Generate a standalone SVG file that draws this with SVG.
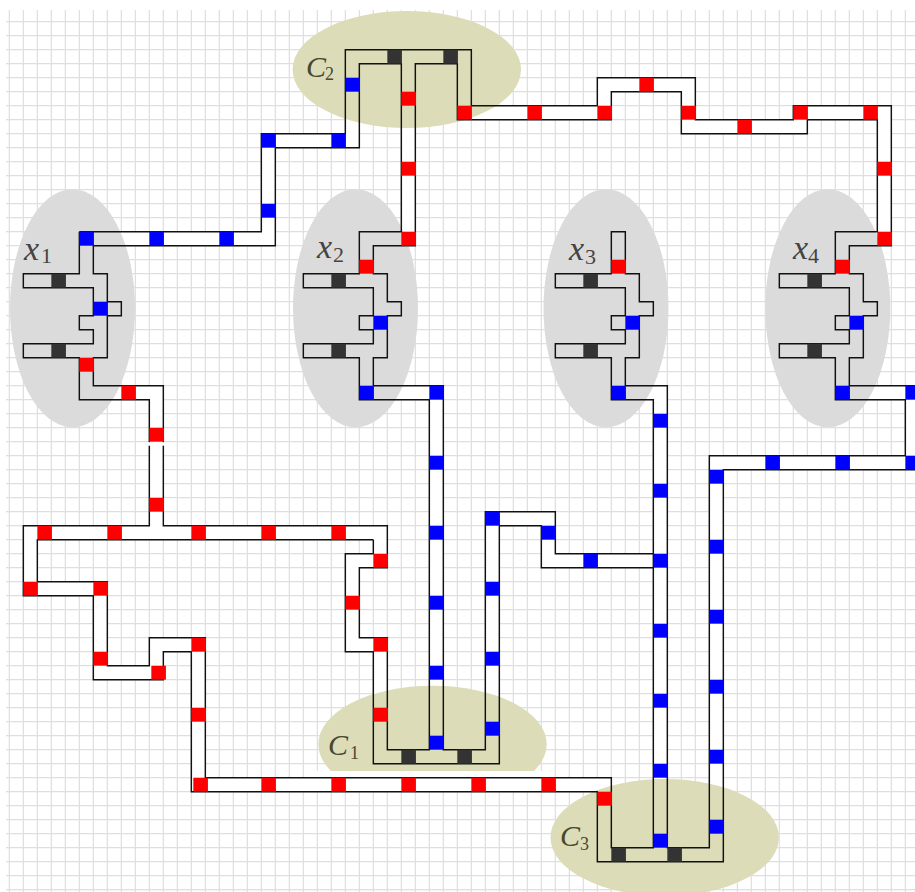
<svg xmlns="http://www.w3.org/2000/svg" width="915" height="892" viewBox="0 0 915 892">
<style>
text{font-family:"Liberation Serif",serif}
.v{font-style:italic;font-size:34px;fill:#444}
.vs{font-size:22px;fill:#444}
.c{font-style:italic;font-size:30px;fill:#48482c}
.cs{font-size:18px;fill:#48482c}
.g{stroke:#dfdfdf;stroke-width:1.25;fill:none}
.band{stroke:#fff;stroke-width:14;fill:none;stroke-linecap:square;stroke-linejoin:miter}
.line{stroke:#111;stroke-width:1.45;fill:none;stroke-linejoin:miter}
.xe{fill:#dbdbdb}
.ce{fill:#dcdcb9}
rect.r{fill:#f00;width:14.6px;height:14px}
rect.b{fill:#00f;width:14.6px;height:14px}
rect.k{fill:#333;width:14.6px;height:14px}
</style>
<defs><clipPath id="c1clip"><rect x="300" y="670" width="260" height="101"/></clipPath></defs>
<rect width="915" height="892" fill="#fff"/>
<g id="grid">
<path class="g" d="M9.33 10V892M23.33 10V892M37.33 10V892M51.33 10V892M65.33 10V892M79.33 10V892M93.33 10V892M107.33 10V892M121.33 10V892M135.33 10V892M149.33 10V892M163.33 10V892M177.33 10V892M191.33 10V892M205.33 10V892M219.33 10V892M233.33 10V892M247.33 10V892M261.33 10V892M275.33 10V892M289.33 10V892M303.33 10V892M317.33 10V892M331.33 10V892M345.33 10V892M359.33 10V892M373.33 10V892M387.33 10V892M401.33 10V892M415.33 10V892M429.33 10V892M443.33 10V892M457.33 10V892M471.33 10V892M485.33 10V892M499.33 10V892M513.33 10V892M527.33 10V892M541.33 10V892M555.33 10V892M569.33 10V892M583.33 10V892M597.33 10V892M611.33 10V892M625.33 10V892M639.33 10V892M653.33 10V892M667.33 10V892M681.33 10V892M695.33 10V892M709.33 10V892M723.33 10V892M737.33 10V892M751.33 10V892M765.33 10V892M779.33 10V892M793.33 10V892M807.33 10V892M821.33 10V892M835.33 10V892M849.33 10V892M863.33 10V892M877.33 10V892M891.33 10V892M905.33 10V892"/>
<path class="g" d="M6 21.7H915M6 35.7H915M6 49.7H915M6 63.7H915M6 77.7H915M6 91.7H915M6 105.7H915M6 119.7H915M6 133.7H915M6 147.7H915M6 161.7H915M6 175.7H915M6 189.7H915M6 203.7H915M6 217.7H915M6 231.7H915M6 245.7H915M6 259.7H915M6 273.7H915M6 287.7H915M6 301.7H915M6 315.7H915M6 329.7H915M6 343.7H915M6 357.7H915M6 371.7H915M6 385.7H915M6 399.7H915M6 413.7H915M6 427.7H915M6 441.7H915M6 455.7H915M6 469.7H915M6 483.7H915M6 497.7H915M6 511.7H915M6 525.7H915M6 539.7H915M6 553.7H915M6 567.7H915M6 581.7H915M6 595.7H915M6 609.7H915M6 623.7H915M6 637.7H915M6 651.7H915M6 665.7H915M6 679.7H915M6 693.7H915M6 707.7H915M6 721.7H915M6 735.7H915M6 749.7H915M6 763.7H915M6 777.7H915M6 791.7H915M6 805.7H915M6 819.7H915M6 833.7H915M6 847.7H915M6 861.7H915M6 875.7H915M6 889.7H915"/>
</g>
<g id="connector-fill" transform="translate(.33 .7)">
<path class="band" d="M86 238H268V140H352V56H464V112H604V84H688V126H800V112H884V238H842V280"/>
<path class="band" d="M408 56V238H366V280"/>
<path class="band" d="M86 358V392H156V532H30V588H100V672H156V644H198V784H604V854H716V462H912V392H842"/>
<path class="band" d="M156 532H380V560H352V644H380V756H492V518H548V560H660"/>
<path class="band" d="M366 392H436V756"/>
<path class="band" d="M618 392H660V854"/>
</g>
<g id="nodes">
<g id="x1"><ellipse class="xe" cx="72.5" cy="308.3" rx="62.5" ry="119"/><text class="v" x="24" y="260">x</text><text class="vs" x="41" y="263">1</text></g>
<g id="x2"><ellipse class="xe" cx="355.5" cy="308.3" rx="62.5" ry="119"/><text class="v" x="317" y="258">x</text><text class="vs" x="333" y="262">2</text></g>
<g id="x3"><ellipse class="xe" cx="606" cy="308.3" rx="62.5" ry="119"/><text class="v" x="569" y="260">x</text><text class="vs" x="585" y="264">3</text></g>
<g id="x4"><ellipse class="xe" cx="827.8" cy="308.3" rx="62.5" ry="119"/><text class="v" x="793" y="259">x</text><text class="vs" x="808" y="263">4</text></g>
<g id="C2"><ellipse class="ce" cx="406.8" cy="69.5" rx="114.2" ry="58.5"/><text class="c" x="306" y="77">C</text><text class="cs" x="325" y="79.5">2</text></g>
<g id="C1"><rect x="316" y="771" width="232" height="7" fill="#fff"/><ellipse class="ce" cx="432.5" cy="744.2" rx="114.2" ry="58.5" clip-path="url(#c1clip)"/><text class="c" x="328" y="755">C</text><text class="cs" x="350" y="758.5">1</text></g>
<g id="C3"><ellipse class="ce" cx="664.7" cy="837.5" rx="114.2" ry="58.5"/><text class="c" x="560" y="846">C</text><text class="cs" x="580" y="849.5">3</text></g>
</g>
<g id="connectors" transform="translate(.33 .7)">
<path class="line" d="M79 231H261V133H345V49H471V105H597V77H695V119H793V105H891V245H849V273H863V301H877V315H863V357H849V385H915"/>
<path class="line" d="M93 245H275V147H359V63H401V231H359V273H303V287H373V315H359V329H373V343H303V357H359V399H429V749H387V637H359V567H387V525H163V385H93V357H107V315H121V301H107V273H93Z"/>
<path class="line" d="M79 231V273H23V287H93V315H79V329H93V343H23V357H79V399H149V525H23V595H93V679H163V651H191V791H597V861H723V469H915"/>
<path class="line" d="M373 539H37V581H107V665H149V637H205V777H611V847H653V399H611V357H555V343H625V329H611V315H625V287H555V273H611V231H625V273H639V301H653V315H639V357H625V385H667V847H709V455H905V399H835V357H779V343H849V329H835V315H849V287H779V273H835V231H877V119H807V133H681V91H611V119H457V63H415V245H373V273H387V301H401V315H387V357H373V385H443V749H485V511H555V553H653"/>
<path class="line" d="M653 567H541V525H499V763H373V651H345V553H373V539"/>
<rect x="147" y="441.5" width="18" height="3.5" fill="#fff"/>
<g id="ports-dark">
<rect class="k" x="51" y="273"/><rect class="k" x="51" y="343"/><rect class="k" x="331" y="273"/><rect class="k" x="331" y="343"/><rect class="k" x="583" y="273"/><rect class="k" x="583" y="343"/><rect class="k" x="807" y="273"/><rect class="k" x="807" y="343"/>
<rect class="k" x="387" y="49"/><rect class="k" x="443" y="49"/><rect class="k" x="401" y="749"/><rect class="k" x="457" y="749"/><rect class="k" x="611" y="847"/><rect class="k" x="667" y="847"/>
</g>
<g id="ports-blue">
<rect class="b" x="79" y="231"/><rect class="b" x="149" y="231"/><rect class="b" x="219" y="231"/><rect class="b" x="261" y="203"/><rect class="b" x="261" y="133"/><rect class="b" x="331" y="133"/><rect class="b" x="345" y="77"/>
<rect class="b" x="93" y="301"/><rect class="b" x="373" y="315"/><rect class="b" x="359" y="385"/><rect class="b" x="625" y="315"/><rect class="b" x="611" y="385"/><rect class="b" x="849" y="315"/><rect class="b" x="835" y="385"/>
<rect class="b" x="429" y="385"/><rect class="b" x="429" y="455"/><rect class="b" x="429" y="525"/><rect class="b" x="429" y="595"/><rect class="b" x="429" y="665"/><rect class="b" x="429" y="735"/>
<rect class="b" x="653" y="413"/><rect class="b" x="653" y="483"/><rect class="b" x="653" y="553"/><rect class="b" x="653" y="623"/><rect class="b" x="653" y="693"/><rect class="b" x="653" y="763"/><rect class="b" x="653" y="833"/>
<rect class="b" x="905" y="385"/><rect class="b" x="905" y="455"/><rect class="b" x="835" y="455"/><rect class="b" x="765" y="455"/><rect class="b" x="709" y="469"/><rect class="b" x="709" y="539"/><rect class="b" x="709" y="609"/><rect class="b" x="709" y="679"/><rect class="b" x="709" y="749"/><rect class="b" x="709" y="819"/>
<rect class="b" x="485" y="511"/><rect class="b" x="541" y="525"/><rect class="b" x="583" y="553"/><rect class="b" x="485" y="581"/><rect class="b" x="485" y="651"/><rect class="b" x="485" y="721"/>
</g>
<g id="ports-red">
<rect class="r" x="401" y="91"/><rect class="r" x="401" y="161"/><rect class="r" x="401" y="231"/><rect class="r" x="359" y="259"/><rect class="r" x="611" y="259"/>
<rect class="r" x="457" y="105"/><rect class="r" x="527" y="105"/><rect class="r" x="597" y="105"/><rect class="r" x="639" y="77"/><rect class="r" x="681" y="105"/><rect class="r" x="737" y="119"/><rect class="r" x="793" y="105"/><rect class="r" x="863" y="105"/><rect class="r" x="877" y="161"/><rect class="r" x="877" y="231"/><rect class="r" x="835" y="259"/>
<rect class="r" x="79" y="357"/><rect class="r" x="121" y="385"/><rect class="r" x="149" y="427"/><rect class="r" x="149" y="497"/><rect class="r" x="37" y="525"/><rect class="r" x="107" y="525"/><rect class="r" x="191" y="525"/><rect class="r" x="261" y="525"/><rect class="r" x="331" y="525"/><rect class="r" x="373" y="553"/><rect class="r" x="345" y="595"/><rect class="r" x="373" y="637"/><rect class="r" x="373" y="707"/>
<rect class="r" x="23" y="581"/><rect class="r" x="93" y="581"/><rect class="r" x="93" y="651"/><rect class="r" x="151" y="665"/><rect class="r" x="191" y="637"/><rect class="r" x="191" y="707"/><rect class="r" x="193" y="777"/><rect class="r" x="261" y="777"/><rect class="r" x="331" y="777"/><rect class="r" x="401" y="777"/><rect class="r" x="471" y="777"/><rect class="r" x="541" y="777"/><rect class="r" x="597" y="791"/>
</g>
</g>
</svg>
